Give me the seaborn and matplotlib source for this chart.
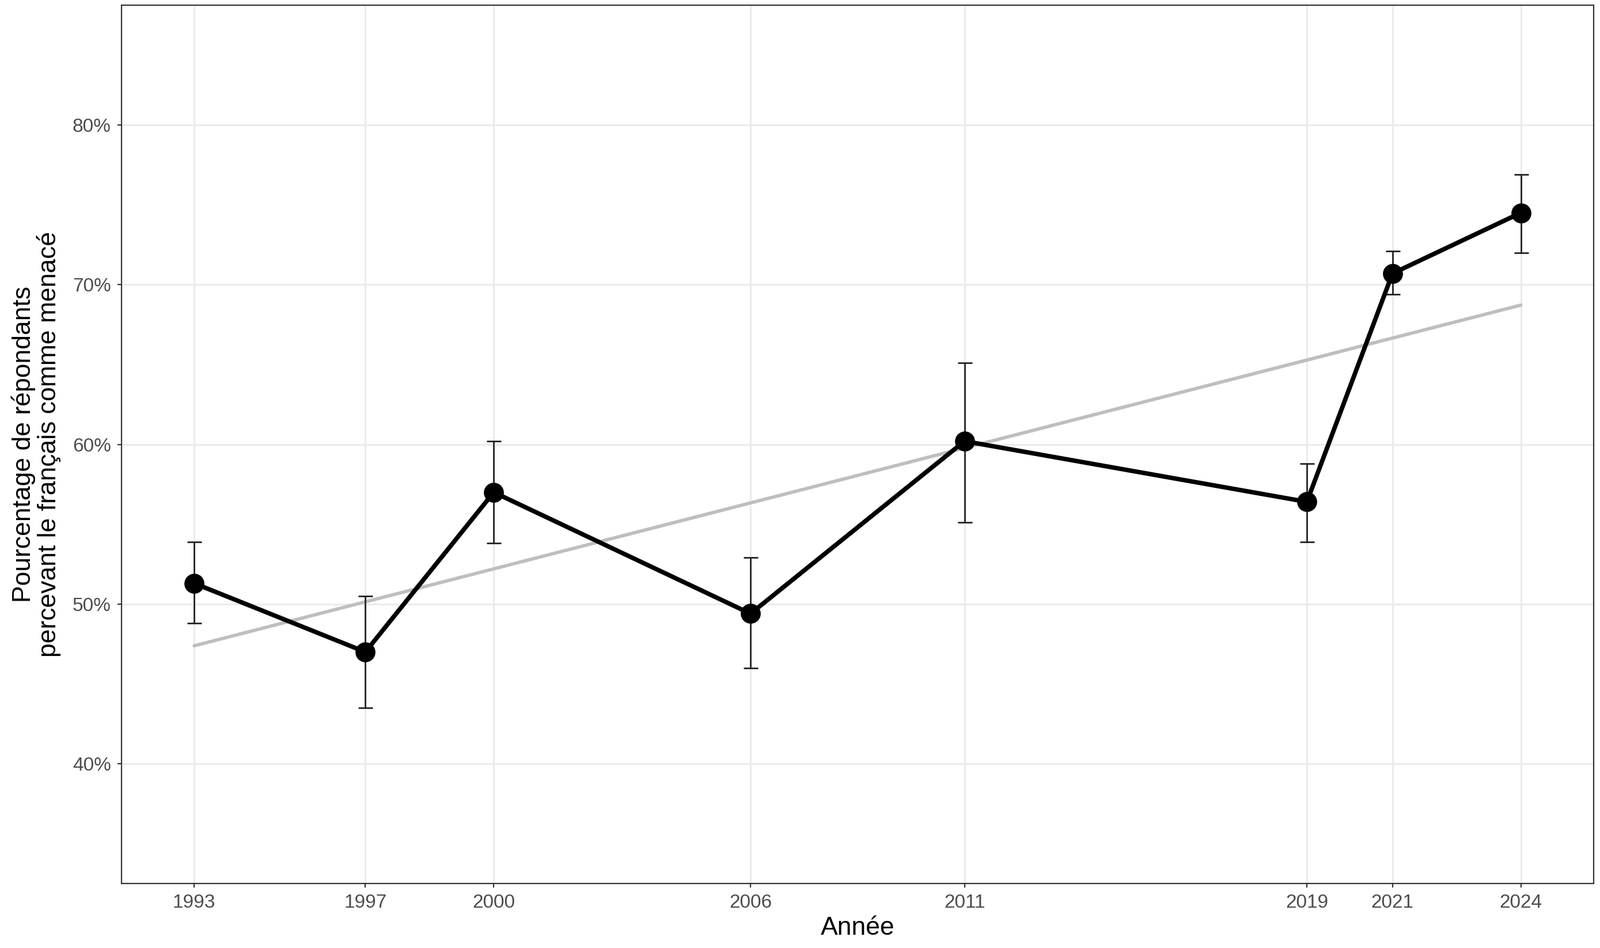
import numpy as np
import pandas as pd
import matplotlib
matplotlib.use("Agg")
import matplotlib.pyplot as plt
import seaborn as sns
from matplotlib.ticker import FuncFormatter

# Données
annees = [1993, 1997, 2000, 2006, 2011, 2019, 2021, 2024]
pourcentages = [51.3, 47.0, 57.0, 49.4, 60.2, 56.4, 70.7, 74.5]
borne_haute = [53.9, 50.5, 60.2, 52.9, 65.1, 58.8, 72.1, 76.9]
borne_basse = [48.8, 43.5, 53.8, 46.0, 55.1, 53.9, 69.4, 72.0]
y_ticks = [40, 50, 60, 70, 80]

df = pd.DataFrame({"annee": annees, "pct": pourcentages,
                   "haut": borne_haute, "bas": borne_basse})

sns.set_theme(style="white")
plt.rcParams["font.family"] = ["Liberation Sans", "DejaVu Sans"]

fig = plt.figure(figsize=(2778 / 200, 1646 / 200), dpi=200)
ax = fig.add_axes([0.0759, 0.068, 0.9201, 0.9265])

# grille façon theme_bw
for yv in y_ticks:
    ax.axhline(yv, color="#EBEBEB", lw=1.1, zorder=0)
for xv in annees:
    ax.axvline(xv, color="#EBEBEB", lw=1.1, zorder=0)

# droite de tendance (régression linéaire)
sns.regplot(data=df, x="annee", y="pct", ax=ax, scatter=False, ci=None,
            truncate=True, line_kws={"color": "#BEBEBE", "lw": 2.1, "zorder": 1})

# barres d'erreur
ax.errorbar(df["annee"], df["pct"],
            yerr=[df["pct"] - df["bas"], df["haut"] - df["pct"]],
            fmt="none", ecolor="#222222", elinewidth=1.0, capsize=4.5,
            capthick=1.0, zorder=2)

# ligne et points
sns.lineplot(data=df, x="annee", y="pct", ax=ax, color="black", lw=2.8,
             marker="o", markersize=12.5, markeredgewidth=0, zorder=3)

ax.set_xlim(1991.3, 2025.7)
ax.set_ylim(32.5, 87.5)
ax.set_xticks(annees)
ax.set_yticks(y_ticks)
ax.yaxis.set_major_formatter(FuncFormatter(lambda v, p: f"{v:.0f}%"))

ax.tick_params(axis="both", which="major", length=2.5, width=0.8,
               color="#333333", labelcolor="#4D4D4D", labelsize=12,
               direction="out", pad=4, bottom=True, left=True)

for s in ax.spines.values():
    s.set_visible(True)
    s.set_color("#333333")
    s.set_linewidth(0.8)

ax.set_xlabel("Année", fontsize=16, color="black", labelpad=3)
ax.set_ylabel("Pourcentage de répondants\npercevant le français comme menacé",
              fontsize=16, color="black", labelpad=7, linespacing=1.05)

fig.savefig("out.png", dpi=200)
